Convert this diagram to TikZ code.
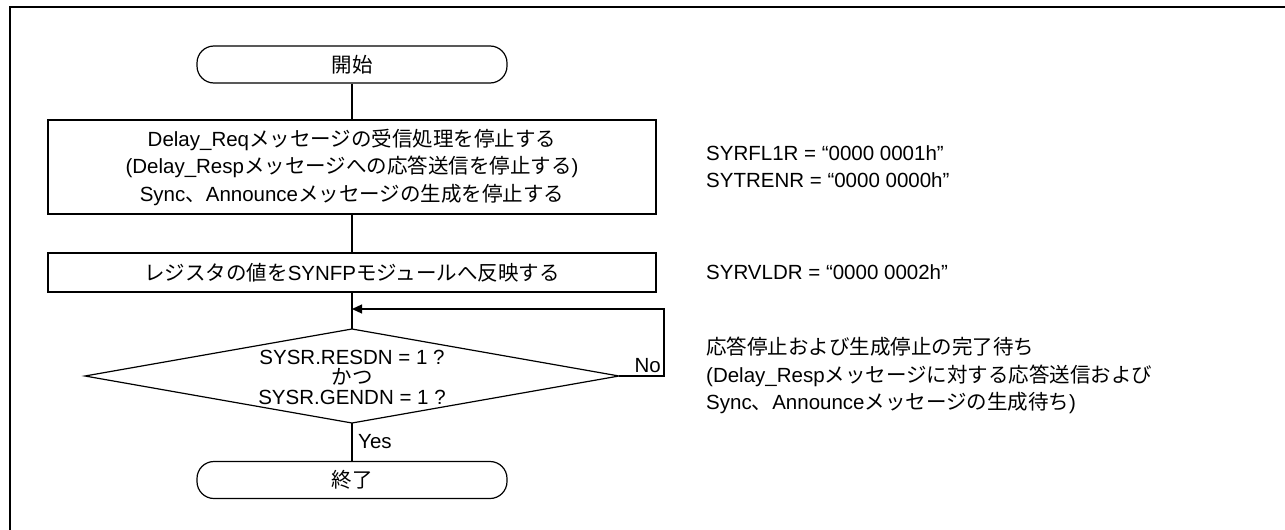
\documentclass[tikz,border=0pt]{standalone}
\usepackage{fontspec}
\setmainfont{Liberation Sans}
\newfontfamily\jpf{Noto Sans CJK JP}
\newcommand\J[1]{{\jpf #1}}
\usetikzlibrary{arrows.meta}
\begin{document}
\begin{tikzpicture}[x=1pt,y=-1pt,
  every node/.style={font=\fontsize{20.5}{27.5}\selectfont, inner sep=0pt},
  line/.style={line width=1.2pt},
  term/.style={draw, line width=1.2pt, minimum width=310pt, minimum height=37pt, rounded corners=17pt},
  proc/.style={draw, line width=1.2pt, minimum width=608pt, align=center},
  note/.style={anchor=west, align=left},
  lbl/.style={font=\fontsize{20.5}{22}\selectfont}]
\useasboundingbox (0,0) rectangle (1285,530);
\draw[line width=2pt] (10,531) -- (10,7) -- (1286,7);
% flowchart
\node[term] (start) at (352,64.5) {\J{開始}};
\node[proc, minimum height=94pt] (p1) at (352,167) {Delay\_Req\J{メッセージの受信処理を停止する}\\(Delay\_Resp\J{メッセージへの応答送信を停止する})\\Sync\J{、}Announce\J{メッセージの生成を停止する}};
\node[proc, minimum height=39pt] (p2) at (352,272.5) {\J{レジスタの値を}SYNFP\J{モジュールへ反映する}};
\coordinate (dt) at (352,329);
\coordinate (dr) at (619,376);
\coordinate (db) at (352,423);
\coordinate (dl) at (85,376);
\draw[line] (dt) -- (dr) -- (db) -- (dl) -- cycle;
\node[align=center, font=\fontsize{20.5}{20}\selectfont] (dec) at (352,377) {SYSR.RESDN = 1 ?\\\J{かつ}\\SYSR.GENDN = 1 ?};
\node[term] (end) at (352,480) {\J{終了}};
\coordinate (loopc) at (352,309);
\coordinate (lr) at (664,309);
\draw[line] (start) -- (p1);
\draw[line] (p1) -- (p2);
\draw[line] (p2.south) -- (dt);
\draw[line] (db) -- (end);
\draw[line, -{Triangle[length=10pt,width=9pt]}] (dr) -- (lr |- dr) -- (lr) -- (loopc);
\node[lbl, anchor=south east] (no) at (661,373) {No};
\node[lbl, anchor=west] (yes) at (358,442) {Yes};
% notes
\node[note] (n1) at (706,166.5) {SYRFL1R = “0000 0001h”\\SYTRENR = “0000 0000h”};
\node[note] (n2) at (706,272) {SYRVLDR = “0000 0002h”};
\node[note] (n3) at (706,375.5) {\J{応答停止および生成停止の完了待ち}\\(Delay\_Resp\J{メッセージに対する応答送信および}\\Sync\J{、}Announce\J{メッセージの生成待ち})};
\end{tikzpicture}
\end{document}
